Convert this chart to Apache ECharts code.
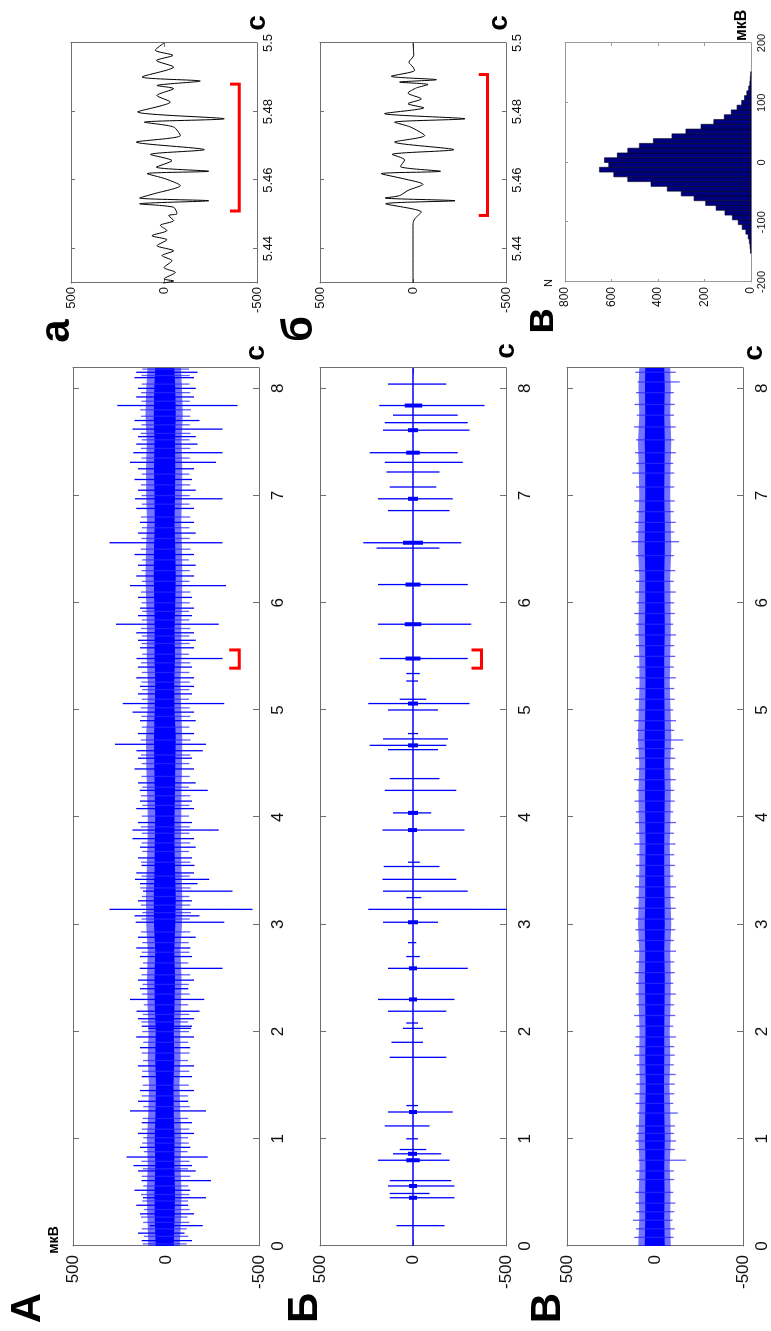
<!DOCTYPE html>
<html lang="ru">
<head>
<meta charset="UTF-8">
<title>Сигнал, мкВ</title>
<script src="https://cdn.jsdelivr.net/npm/echarts@6/dist/echarts.min.js"></script>
<style>
html,body{margin:0;padding:0;background:#fff;overflow:hidden;width:771px;height:1331px;}
/* рисуем в горизонтальной раскладке и поворачиваем на -90 градусов */
#chart{position:absolute;left:0;top:0;width:1331px;height:771px;transform-origin:0 0;transform:translate(0,1331px) rotate(-90deg);}
</style>
</head>
<body>
<div id="chart"></div>
<script>
// ---- данные ----
// огибающая шума, с
var tEnv = [0,0.25,0.5,0.75,1,1.25,1.5,1.75,2,2.25,2.5,2.75,3,3.25,3.5,3.75,4,4.25,4.5,4.75,5,5.25,5.5,5.75,6,6.25,6.5,6.75,7,7.25,7.5,7.75,8,8.19];
// панель А: внешняя и плотная полоса, мкВ
var aHi = [95,100,104,98,102,96,92,98,94,100,102,98,106,108,104,100,98,102,106,108,100,98,104,102,106,110,108,102,106,108,104,110,106,100];
var aLo = [-74,-80,-84,-78,-82,-76,-72,-78,-76,-80,-84,-78,-86,-88,-84,-80,-82,-84,-86,-88,-82,-78,-84,-82,-86,-88,-86,-82,-86,-88,-84,-90,-86,-80];
var aCoreHi = [55,60,62,58,60,56,54,58,55,60,62,58,64,66,62,60,58,60,63,65,60,58,62,60,63,66,64,60,62,64,62,66,63,58];
var aCoreLo = [-42,-46,-48,-44,-46,-42,-40,-44,-42,-46,-48,-44,-50,-52,-48,-46,-46,-48,-50,-52,-46,-44,-48,-46,-50,-52,-50,-46,-48,-50,-48,-52,-50,-44];
// панель А: выбросы [t, max, min]
var aSpikes = [[0.19,87,-198],[0.45,123,-215],[0.61,132,-242],[0.83,212,-224],[1.26,194,-215],[2.03,96,-135],[2.19,158,-180],[2.30,194,-206],[2.59,141,-304],[3.02,162,-313],[3.14,304,-465],[3.31,123,-358],[3.42,167,-233],[3.55,132,-153],[3.88,180,-283],[4.25,141,-224],[4.62,158,-198],[4.68,274,-215],[5.06,233,-313],[5.48,158,-304],[5.80,269,-283],[6.16,194,-322],[6.56,304,-304],[6.97,167,-304],[7.31,194,-269],[7.40,176,-304],[7.62,180,-304],[7.84,262,-384]];
var aMinor = [[0.05,130,-140],[0.12,150,-100],[0.30,140,-150],[0.38,160,-120],[0.52,170,-130],[0.70,150,-160],[0.75,175,-140],[0.92,140,-130],[1.05,150,-150],[1.15,130,-140],[1.35,150,-120],[1.45,140,-150],[1.58,130,-140],[1.68,150,-150],[1.85,140,-130],[1.95,160,-150],[2.05,130,-140],[2.12,150,-150],[2.40,140,-120],[2.48,150,-150],[2.70,140,-140],[2.78,160,-130],[2.88,150,-160],[3.08,170,-180],[3.22,150,-140],[3.38,140,-170],[3.48,160,-150],[3.62,150,-140],[3.72,140,-160],[3.80,180,-150],[3.95,150,-140],[4.08,160,-150],[4.15,140,-140],[4.32,150,-160],[4.45,170,-150],[4.55,150,-140],[4.78,150,-150],[4.90,140,-160],[4.98,180,-150],[5.15,150,-140],[5.22,140,-150],[5.30,160,-150],[5.40,150,-140],[5.58,140,-150],[5.65,150,-160],[5.72,160,-150],[5.88,150,-140],[5.95,140,-150],[6.05,150,-140],[6.25,160,-150],[6.35,150,-160],[6.45,170,-150],[6.65,150,-160],[6.75,140,-150],[6.88,160,-150],[7.05,150,-160],[7.15,170,-140],[7.25,150,-150],[7.48,160,-170],[7.55,150,-160],[7.70,170,-180],[7.92,160,-150],[8.00,150,-160],[8.10,170,-150],[8.15,160,-170]];
// панель А: мелкая «бахрома» шума
var aFringe = [[0.02,125,-110],[0.09,118,-120],[0.16,130,-112],[0.22,122,-125],[0.27,135,-115],[0.34,120,-128],[0.42,128,-118],[0.48,135,-125],[0.56,122,-120],[0.65,130,-130],[0.72,125,-118],[0.79,132,-126],[0.88,120,-115],[0.96,128,-122],[1.01,122,-118],[1.09,130,-125],[1.19,125,-120],[1.30,122,-128],[1.40,130,-118],[1.50,125,-122],[1.63,128,-125],[1.73,124,-118],[1.80,130,-126],[1.90,122,-120],[2.00,128,-124],[2.09,132,-118],[2.16,125,-126],[2.25,120,-120],[2.35,130,-128],[2.44,126,-122],[2.53,132,-130],[2.64,124,-120],[2.74,130,-126],[2.83,128,-122],[2.93,135,-130],[3.05,132,-128],[3.11,128,-134],[3.18,135,-130],[3.26,130,-126],[3.34,138,-132],[3.45,132,-128],[3.58,134,-130],[3.68,128,-124],[3.76,132,-130],[3.85,130,-126],[3.91,134,-128],[4.01,130,-124],[4.11,128,-126],[4.20,134,-130],[4.28,128,-124],[4.38,132,-128],[4.50,130,-126],[4.58,134,-130],[4.72,136,-132],[4.84,130,-126],[4.94,132,-130],[5.02,136,-128],[5.10,130,-124],[5.19,128,-126],[5.26,132,-128],[5.35,130,-126],[5.44,134,-130],[5.52,128,-124],[5.62,132,-128],[5.69,130,-126],[5.76,134,-130],[5.84,130,-126],[5.92,128,-124],[6.00,132,-128],[6.10,134,-130],[6.20,130,-126],[6.30,132,-128],[6.40,128,-124],[6.50,136,-132],[6.60,132,-128],[6.70,130,-126],[6.80,134,-130],[6.92,130,-126],[7.00,132,-128],[7.10,134,-130],[7.20,130,-126],[7.35,132,-128],[7.44,134,-130],[7.52,130,-126],[7.58,136,-132],[7.66,132,-128],[7.74,134,-130],[7.80,138,-134],[7.88,132,-128],[7.96,134,-130],[8.04,130,-126],[8.12,132,-128],[8.18,128,-124]];
// панель Б: пачки [t, max, min] и их плотная часть
var bSpikes = [[0.19,89,-170],[0.45,125,-223],[0.49,125,-89],[0.56,134,-223],[0.61,125,-205],[0.80,188,-196],[0.86,107,-152],[0.90,71,-71],[1.00,36,-27],[1.12,152,-89],[1.25,134,-214],[1.31,36,-27],[1.76,125,-179],[1.90,116,-54],[2.03,54,-54],[2.08,36,-27],[2.19,134,-179],[2.30,188,-223],[2.59,134,-295],[2.70,36,-36],[2.83,27,-18],[3.02,161,-134],[3.14,241,-530],[3.25,36,-45],[3.31,161,-295],[3.42,164,-232],[3.54,157,-143],[3.58,27,-36],[3.88,164,-277],[4.04,107,-98],[4.25,152,-232],[4.36,125,-143],[4.63,134,-134],[4.67,232,-179],[4.73,161,-188],[4.78,27,-27],[5.00,134,-134],[5.06,241,-304],[5.10,71,-71],[5.27,36,-27],[5.34,36,-36],[5.48,179,-295],[5.80,188,-313],[6.17,188,-295],[6.51,196,-143],[6.56,268,-259],[6.86,134,-196],[6.97,188,-214],[7.08,125,-125],[7.22,143,-143],[7.31,152,-268],[7.40,232,-241],[7.61,161,-304],[7.68,152,-295],[7.75,107,-241],[7.84,182,-384],[8.04,134,-179]];
var bCore = [[0.45,22,-22],[0.56,22,-22],[0.80,36,-36],[0.86,27,-22],[1.25,22,-22],[2.30,22,-22],[2.59,22,-22],[3.02,27,-27],[3.88,27,-22],[4.04,27,-27],[4.67,27,-27],[5.06,27,-27],[5.48,40,-40],[5.80,45,-45],[6.17,40,-40],[6.56,54,-54],[6.97,27,-27],[7.40,36,-36],[7.61,27,-27],[7.84,45,-50]];
// панель В: шум
var vHi = [95,90,92,88,94,90,86,90,88,92,94,90,96,92,90,88,92,94,90,96,92,88,90,94,92,90,96,94,90,92,96,90,94,90];
var vLo = [-90,-86,-88,-84,-90,-86,-82,-86,-84,-88,-90,-86,-92,-88,-86,-84,-88,-90,-86,-92,-88,-84,-86,-90,-88,-86,-92,-90,-86,-88,-92,-86,-90,-86];
var vCoreHi = [58,55,56,54,57,55,53,55,54,56,57,55,58,56,55,54,56,57,55,58,56,54,55,57,56,55,58,57,55,56,58,55,57,55];
var vCoreLo = [-56,-53,-54,-52,-55,-53,-51,-53,-52,-54,-55,-53,-56,-54,-53,-52,-54,-55,-53,-56,-54,-52,-53,-55,-54,-53,-56,-55,-53,-54,-56,-53,-55,-53];
var vSpikes = [[0.08,118,-105],[0.16,108,-112],[0.24,125,-100],[0.32,106,-110],[0.40,110,-115],[0.50,112,-104],[0.62,102,-110],[0.70,110,-106],[0.80,95,-176],[0.90,106,-112],[0.98,112,-120],[1.05,104,-108],[1.12,108,-114],[1.24,100,-129],[1.33,110,-104],[1.42,115,-110],[1.51,106,-112],[1.60,110,-118],[1.69,104,-106],[1.78,118,-112],[1.86,108,-110],[1.95,112,-120],[2.05,106,-104],[2.15,120,-115],[2.25,104,-110],[2.35,110,-118],[2.45,108,-104],[2.55,115,-112],[2.65,106,-110],[2.75,118,-120],[2.85,104,-108],[2.95,112,-115],[3.05,110,-106],[3.15,120,-118],[3.25,106,-110],[3.35,115,-120],[3.45,108,-104],[3.55,110,-114],[3.65,104,-110],[3.75,118,-116],[3.85,106,-108],[3.95,112,-120],[4.05,108,-104],[4.15,116,-112],[4.25,104,-110],[4.35,120,-118],[4.45,106,-108],[4.55,112,-115],[4.64,108,-106],[4.72,100,-160],[4.81,104,-110],[4.90,118,-120],[5.00,106,-104],[5.10,115,-112],[5.20,108,-110],[5.30,112,-118],[5.40,104,-106],[5.50,120,-115],[5.60,108,-110],[5.70,114,-120],[5.80,106,-104],[5.90,118,-112],[6.00,104,-110],[6.10,112,-118],[6.20,108,-106],[6.30,116,-115],[6.44,110,-108],[6.57,133,-136],[6.66,106,-110],[6.75,115,-118],[6.85,104,-106],[6.95,118,-112],[7.08,108,-110],[7.21,129,-110],[7.30,106,-104],[7.40,114,-118],[7.52,108,-110],[7.64,120,-118],[7.75,104,-108],[7.85,116,-112],[7.96,108,-106],[8.06,100,-140],[8.15,112,-118]];
// фрагменты а и б (5.43-5.5 с)
var zoomTa = [5.4300,5.4306,5.4312,5.4331,5.4345,5.4365,5.4380,5.4394,5.4409,5.4426,5.4438,5.4453,5.4468,5.4482,5.4497,5.4502,5.4521,5.4531,5.4540,5.4548,5.4560,5.4584,5.4604,5.4619,5.4626,5.4638,5.4657,5.4675,5.4689,5.4711,5.4730,5.4755,5.4769,5.4779,5.4799,5.4828,5.4847,5.4867,5.4876,5.4889,5.4901,5.4930,5.4949,5.4964,5.4979,5.5000];
var zoomVa = [5,-52,0,-61,0,-43,11,-52,38,-16,65,-16,20,-52,-25,-70,-52,131,-240,131,56,-88,-7,91,-240,41,-43,73,-217,149,-88,-52,106,-324,142,-34,38,-52,38,-195,118,-52,41,-48,47,0];
var zoomTb = [5.4300,5.4473,5.4487,5.4507,5.4531,5.4540,5.4548,5.4555,5.4570,5.4588,5.4604,5.4619,5.4626,5.4640,5.4659,5.4675,5.4689,5.4711,5.4730,5.4755,5.4769,5.4779,5.4794,5.4811,5.4823,5.4837,5.4854,5.4869,5.4879,5.4886,5.4893,5.4903,5.4920,5.4930,5.4944,5.4964,5.5000];
var zoomVb = [0,0,-9,-45,147,-226,150,72,27,-54,50,171,-148,68,45,112,-220,99,-63,14,99,-279,153,-58,27,-45,27,-18,-81,72,-126,117,-9,0,22,-4,0];
// красные скобки: [t начала, t конца], [уровень засечки, уровень линии]
var brTA = [5.39,5.56], brVA = [-340,-394];
var brTB = [5.39,5.56], brVB = [-314,-368];
var brTa = [5.451,5.488], brVa = [-355,-405];
var brTb = [5.4497,5.4908], brVb = [-353,-400];
// гистограмма (в)
var histX = [-148,-140,-132,-124,-116,-108,-100,-92,-84,-76,-68,-60,-52,-44,-36,-28,-20,-12,-4,4,12,20,28,36,44,52,60,68,76,84,92,100,108,116,124,132,140,148];
var histN = [2,4,7,12,22,38,55,80,112,150,195,245,300,360,430,530,590,652,612,630,575,530,480,420,340,280,215,160,115,85,60,40,28,18,10,5,3,1];
var binW = 8;
// деления осей
var tickT = [0,1,2,3,4,5,6,7,8];
var tickV = [-500,0,500];
var tickZoom = [5.44,5.46,5.48,5.5];
var tickHistX = [-200,-100,0,100,200];
var tickHistN = [0,200,400,600,800];

// ---- оформление ----
var FONT = '"Liberation Sans", Arial, sans-serif';
var FRAME = '#6f6f6f';
var TXT = '#111';
var BLUE = '#0000ff';

var xAxes = [], yAxes = [];
function axis(gi, pos, s, label) {
  var col = s.col || FRAME;
  return {
    gridIndex: gi, type: 'value', position: pos, min: s.min, max: s.max,
    splitLine: {show: false},
    axisPointer: {show: false},
    axisLine: {show: true, onZero: false, lineStyle: {color: col, width: 1}},
    axisTick: {show: true, inside: true, length: s.len, customValues: s.ticks, lineStyle: {color: col}},
    axisLabel: {show: label, customValues: s.ticks, margin: s.margin, fontSize: s.fs, color: TXT, fontFamily: FONT}
  };
}
function frame(gi, xs, ys) {
  xAxes.push(axis(gi, 'bottom', xs, true), axis(gi, 'top', xs, false));
  yAxes.push(axis(gi, 'left', ys, true), axis(gi, 'right', ys, false));
}
var longX = {min: 0, max: 8.19, ticks: tickT, fs: 17, margin: 11, len: 6};
var longY = {min: -500, max: 500, ticks: tickV, fs: 17, margin: 9, len: 6};
var zoomX = {min: 5.43, max: 5.5, ticks: tickZoom, fs: 13, margin: 5, len: 4};
var zoomY = {min: -500, max: 500, ticks: tickV, fs: 13, margin: 4, len: 4};
frame(0, longX, longY);
frame(1, longX, longY);
frame(2, longX, longY);
frame(3, zoomX, zoomY);
frame(4, zoomX, zoomY);
frame(5, {min: -200, max: 200, ticks: tickHistX, fs: 11, margin: 5, len: 3, col: '#9a9a9a'},
         {min: 0, max: 800, ticks: tickHistN, fs: 12, margin: 5, len: 3, col: '#9a9a9a'});

function band(gi, lo, hi, fill) {
  return {
    type: 'custom', xAxisIndex: 2 * gi, yAxisIndex: 2 * gi, silent: true,
    data: tEnv.map(function (t, i) { return [t, lo[i], hi[i]]; }),
    renderItem: function (p, api) {
      if (p.dataIndex !== 0) return null;
      var pts = [];
      for (var i = 0; i < tEnv.length; i++) pts.push(api.coord([tEnv[i], hi[i]]));
      for (var j = tEnv.length - 1; j >= 0; j--) pts.push(api.coord([tEnv[j], lo[j]]));
      return {type: 'polygon', shape: {points: pts}, style: {fill: fill}};
    }
  };
}
// вертикальные отрезки [t, max, min] одной ломаной с разрывами
function spikes(gi, list, w, col) {
  var d = [];
  list.forEach(function (s) { d.push([s[0], s[1]], [s[0], s[2]], [s[0], '-']); });
  return {
    type: 'line', xAxisIndex: 2 * gi, yAxisIndex: 2 * gi, silent: true, symbol: 'none',
    connectNulls: false, data: d,
    lineStyle: {color: col || BLUE, width: w, cap: 'butt'}
  };
}
function trace(gi, ts, vs, col, w, smooth) {
  return {
    type: 'line', xAxisIndex: 2 * gi, yAxisIndex: 2 * gi, silent: true, symbol: 'none', smooth: smooth || false,
    data: ts.map(function (t, i) { return [t, vs[i]]; }),
    lineStyle: {color: col, width: w}
  };
}
function bracket(gi, ts, vs) {
  return {
    type: 'line', xAxisIndex: 2 * gi, yAxisIndex: 2 * gi, silent: true, symbol: 'none', z: 5,
    data: [[ts[0], vs[0]], [ts[0], vs[1]], [ts[1], vs[1]], [ts[1], vs[0]]],
    lineStyle: {color: '#ff0000', width: 3, join: 'miter'}
  };
}
function txt(x, y, s, font, align) {
  return {type: 'text', x: x, y: y, silent: true,
    style: {text: s, font: font, fill: '#000', align: align || 'center', verticalAlign: 'middle'}};
}

var BIG = 'bold 42px ' + FONT;
var UNIT = 'bold 28px ' + FONT;
var FRINGE = 'rgba(40,40,255,0.75)';

var option = {
  animation: false,
  backgroundColor: '#fff',
  grid: [
    {left: 85, top: 73, width: 878, height: 186},
    {left: 85, top: 320, width: 878, height: 186},
    {left: 85, top: 567, width: 878, height: 186},
    {left: 1048, top: 71, width: 240, height: 186},
    {left: 1048, top: 320, width: 240, height: 186},
    {left: 1049, top: 565, width: 239, height: 186}
  ],
  xAxis: xAxes,
  yAxis: yAxes,
  series: [
    band(0, aLo, aHi, 'rgba(0,0,255,0.55)'),
    spikes(0, aFringe, 1.3, FRINGE),
    band(0, aCoreLo, aCoreHi, BLUE),
    spikes(0, aMinor, 1.3),
    spikes(0, aSpikes, 1.3),
    bracket(0, brTA, brVA),
    trace(1, [0, 8.19], [0, 0], BLUE, 1.3),
    spikes(1, bSpikes, 1.3),
    spikes(1, bCore, 4),
    bracket(1, brTB, brVB),
    band(2, vLo, vHi, 'rgba(0,0,255,0.55)'),
    spikes(2, vSpikes, 1.3, FRINGE),
    band(2, vCoreLo, vCoreHi, BLUE),
    trace(3, zoomTa, zoomVa, '#000', 1, 0.25),
    bracket(3, brTa, brVa),
    trace(4, zoomTb, zoomVb, '#000', 1, 0.25),
    bracket(4, brTb, brVb),
    {
      type: 'custom', xAxisIndex: 10, yAxisIndex: 10, silent: true,
      data: histX.map(function (x, i) { return [x, histN[i]]; }),
      renderItem: function (p, api) {
        var c = api.value(0), n = api.value(1);
        var p0 = api.coord([c - binW / 2, n]);
        var p1 = api.coord([c + binW / 2, 0]);
        return {type: 'rect', shape: {x: p0[0], y: p0[1], width: p1[0] - p0[0], height: p1[1] - p0[1]},
          style: {fill: '#00007f', stroke: '#00001a', lineWidth: 0.6}};
      }
    }
  ],
  graphic: [
    txt(23, 28, 'А', BIG),
    txt(23, 305, 'Б', BIG),
    txt(23, 548, 'В', BIG),
    txt(1000, 57, 'а', BIG),
    txt(1002, 300, 'б', BIG),
    txt(1010, 541, 'в', BIG),
    txt(91, 54, 'мкВ', 'bold 14px ' + FONT),
    txt(978, 256, 'с', UNIT),
    txt(980, 506, 'с', UNIT),
    txt(978, 754, 'с', UNIT),
    txt(1308, 257, 'с', UNIT),
    txt(1308, 499, 'с', UNIT),
    txt(1290, 742, 'мкВ', 'bold 16px ' + FONT, 'left'),
    txt(1048, 549, 'N', '11px ' + FONT)
  ]
};

var chart = echarts.init(document.getElementById('chart'));
chart.setOption(option);
</script>
</body>
</html>
